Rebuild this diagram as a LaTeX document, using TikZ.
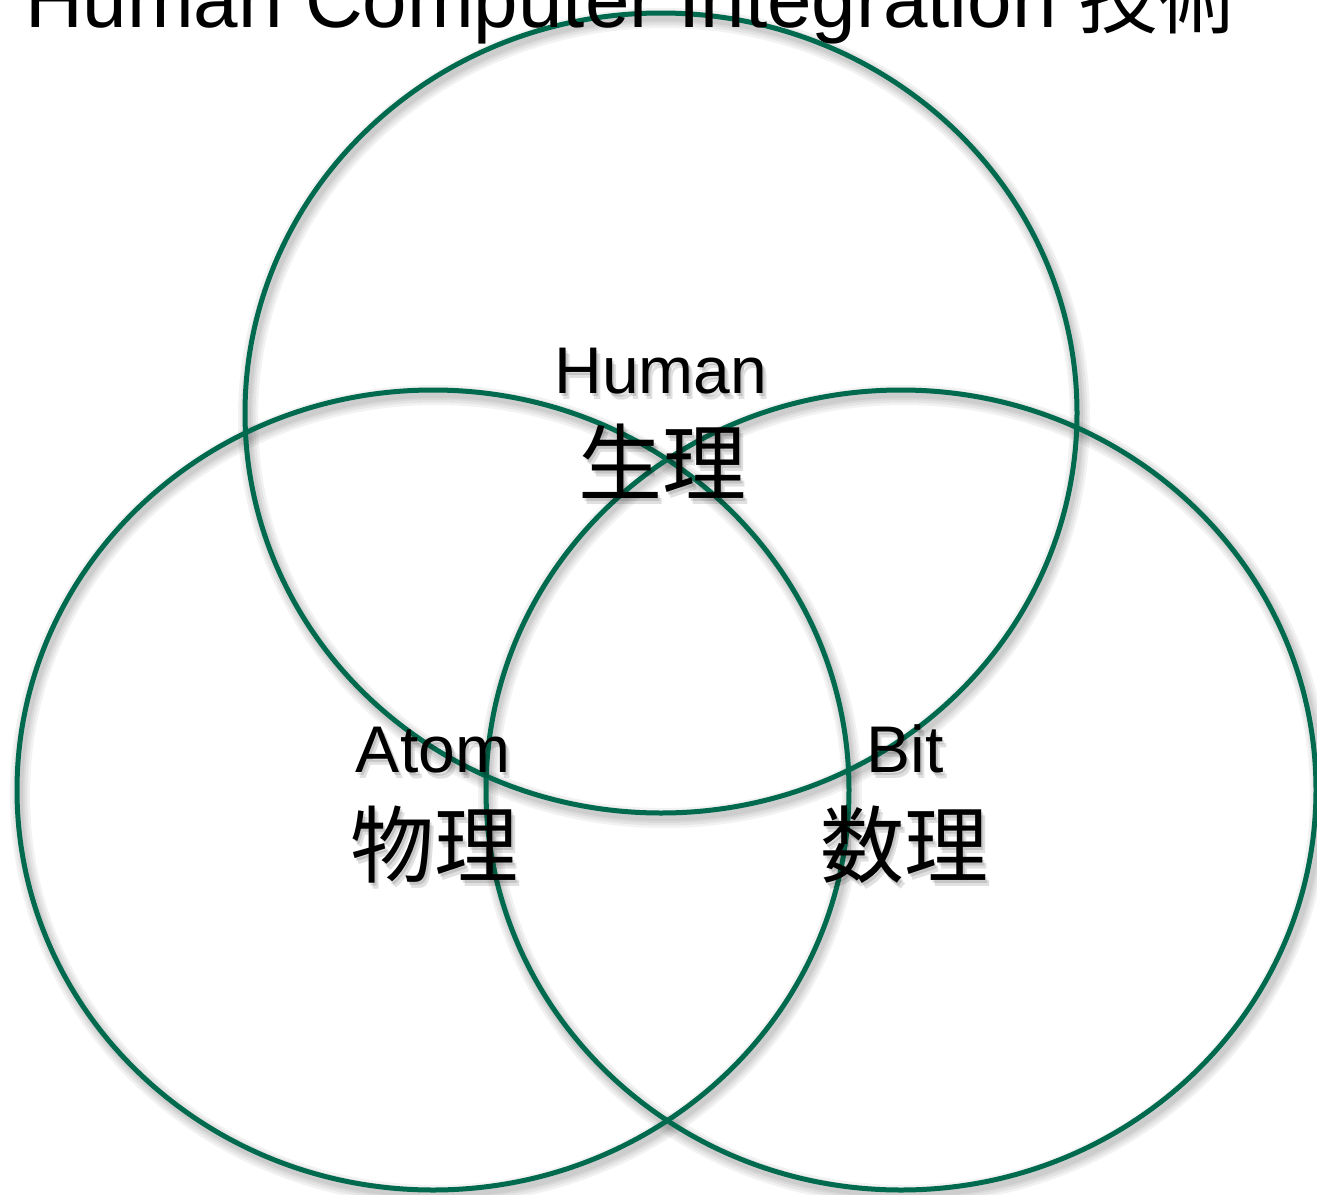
\documentclass[tikz,border=0pt]{standalone}
\usepackage{fontspec}
\setmainfont{Liberation Sans}
\newfontfamily\cjkfont{Noto Sans CJK JP}
\definecolor{vgreen}{RGB}{0,106,78}
\begin{document}
\begin{tikzpicture}[x=1pt,y=-1pt,
  ring/.style={draw=vgreen,line width=5pt},
  ringshade/.style={draw=black,opacity=0.05,line width=#1},
  lab/.style={anchor=base,inner sep=0pt,font=\fontsize{66}{66}\selectfont},
  kanji/.style={anchor=base,inner sep=0pt,font=\cjkfont\fontsize{84}{84}\selectfont},
  titlefont/.style={anchor=base,inner sep=0pt,font=\fontsize{80}{80}\selectfont},
  shade/.style={text=black,opacity=0.12}]
\fill[white] (0,0) rectangle (1317,1194);
\useasboundingbox (0,0) rectangle (1317,1194);
% shadows of rings
\foreach \w in {6,10,15,20}{
  \draw[ringshade=\w pt] (664,418) ellipse [x radius=416pt,y radius=400pt];
  \draw[ringshade=\w pt] (436,795) ellipse [x radius=416pt,y radius=400pt];
  \draw[ringshade=\w pt] (904,795) ellipse [x radius=416pt,y radius=400pt];
}
% rings
\draw[ring] (661,413) ellipse [x radius=416pt,y radius=400pt];
\draw[ring] (433,790) ellipse [x radius=416pt,y radius=400pt];
\draw[ring] (901,790) ellipse [x radius=415pt,y radius=400pt];
% text shadows
\foreach \dx/\dy in {2/3,4/6}{
  \node[lab,shade] at (661+\dx,393+\dy) {Human};
  \node[kanji,shade] at (662+\dx,494+\dy) {生理};
  \node[lab,shade] at (433+\dx,772+\dy) {Atom};
  \node[kanji,shade] at (434+\dx,876+\dy) {物理};
  \node[lab,shade] at (905+\dx,772+\dy) {Bit};
  \node[kanji,shade] at (904+\dx,876+\dy) {数理};
}
% title
\node[titlefont] (title) at (632,27) {Human Computer Integration {\cjkfont 技術}};
% labels
\node[lab] (human) at (661,393) {Human};
\node[kanji] (seiri) at (662,494) {生理};
\node[lab] (atom) at (433,772) {Atom};
\node[kanji] (butsuri) at (434,876) {物理};
\node[lab] (bit) at (905,772) {Bit};
\node[kanji] (suuri) at (904,876) {数理};
\end{tikzpicture}
\end{document}
